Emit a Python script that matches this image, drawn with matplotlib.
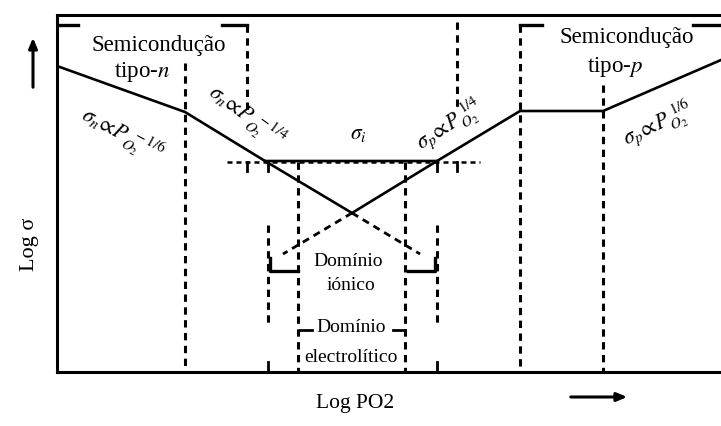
import matplotlib
matplotlib.use("Agg")
import matplotlib.pyplot as plt

plt.rcParams['font.family'] = ['Liberation Serif', 'DejaVu Serif']
plt.rcParams['mathtext.fontset'] = 'stix'

# Schematic coordinates (x grows with log PO2, y grows downward = lower conductivity)
curve_x = [57, 185, 265, 437, 520, 603, 721]
curve_y = [66, 112, 161, 161, 111, 111, 60]

# Extrapolated n- and p-type branches crossing below the ionic plateau
n_solid_x = [265, 352]; n_solid_y = [161, 213]
n_dash_x = [352, 420];  n_dash_y = [213, 254]
p_solid_x = [437, 352]; p_solid_y = [161, 213]
p_dash_x = [352, 283];  p_dash_y = [213, 254]

# Dashed domain boundaries
vline_x = [185, 247, 268, 298, 405, 437, 457, 520, 603]
vline_top = [63, 25, 225, 162, 162, 225, 22, 25, 85]
vline_bot = [372, 110, 327, 372, 372, 327, 110, 372, 372]

plateau_y = 162
plateau_dash = (227, 480)
plateau_ticks = [247, 268, 437, 457]
bottom_ticks = [268, 437]

W, H = 721, 426
fig = plt.figure(figsize=(W / 100, H / 100), dpi=100)
ax = fig.add_axes([57 / W, (H - 372) / H, (W - 57) / W, (372 - 15) / H])
ax.set_xlim(57, 721)
ax.set_ylim(372, 15)
ax.set_xticks([]); ax.set_yticks([])
for s in ['left', 'top', 'bottom']:
    ax.spines[s].set_linewidth(2.2)
ax.spines['right'].set_visible(False)

k = 'black'
ax.plot(curve_x, curve_y, color=k, lw=1.9, solid_joinstyle='round')
ax.plot(n_solid_x, n_solid_y, color=k, lw=1.9)
ax.plot(p_solid_x, p_solid_y, color=k, lw=1.9)
dash = (0, (2.6, 1.9))
ax.plot(n_dash_x, n_dash_y, color=k, lw=2.0, linestyle=dash)
ax.plot(p_dash_x, p_dash_y, color=k, lw=2.0, linestyle=dash)

for x, t, b in zip(vline_x, vline_top, vline_bot):
    ax.plot([x, x], [t, b], color=k, lw=2.2, linestyle=(0, (2.4, 1.8)))

ax.plot(plateau_dash, [plateau_y, plateau_y], color=k, lw=1.8, linestyle=(0, (2.0, 1.6)))
for x in plateau_ticks:
    ax.plot([x, x], [plateau_y, plateau_y + 9], color=k, lw=2.0)
for x in bottom_ticks:
    ax.plot([x, x], [362, 372], color=k, lw=2.0)

# Region brackets at the top
for xs in [(57, 78), (222, 247), (520, 542), (693, 721)]:
    ax.plot(xs, [25, 25], color=k, lw=2.4)

# Brackets of the ionic domain
ax.plot([270, 270, 298], [258, 271, 271], color=k, lw=2.4, solid_joinstyle='round')
ax.plot([408, 435, 435], [271, 271, 258], color=k, lw=2.4, solid_joinstyle='round')
ax.plot([300, 312], [330, 330], color=k, lw=2.0)
ax.plot([393, 405], [330, 330], color=k, lw=2.0)

fs = 16.5
ax.text(159, 46, 'Semicondução', fontsize=fs, ha='center', va='center')
ax.text(142, 72, r'tipo-$\it{n}$', fontsize=fs, ha='center', va='center')
ax.text(627, 38, 'Semicondução', fontsize=fs, ha='center', va='center')
ax.text(615, 67, r'tipo-$\it{p}$', fontsize=fs, ha='center', va='center')

sfs = 15.5
ax.text(122, 135, r'$\sigma_n\!\propto\!P_{O_2}^{\ -1/6}$', fontsize=sfs, rotation=-28,
        ha='center', va='center', rotation_mode='anchor')
ax.text(246, 117, r'$\sigma_n\!\propto\!P_{O_2}^{\ -1/4}$', fontsize=sfs, rotation=-36,
        ha='center', va='center', rotation_mode='anchor')
ax.text(358, 135, r'$\sigma_i$', fontsize=sfs, ha='center', va='center')
ax.text(450, 126, r'$\sigma_p\!\propto\!P_{O_2}^{\ 1/4}$', fontsize=sfs, rotation=33,
        ha='center', va='center', rotation_mode='anchor')
ax.text(658, 125, r'$\sigma_p\!\propto\!P_{O_2}^{\ 1/6}$', fontsize=sfs, rotation=25,
        ha='center', va='center', rotation_mode='anchor')

dfs = 14
ax.text(348, 262, 'Domínio', fontsize=dfs, ha='center', va='center')
ax.text(351, 286, 'iónico', fontsize=dfs, ha='center', va='center')
ax.text(351, 327, 'Domínio', fontsize=dfs, ha='center', va='center')
ax.text(351, 357, 'electrolítico', fontsize=dfs, ha='center', va='center')

ax.set_xlabel('Log PO2', fontsize=15.5)
ax.xaxis.set_label_coords((355 - 57) / 664, (372 - 394) / 357)
ax.set_ylabel('Log σ', fontsize=16)
ax.yaxis.set_label_coords((39 - 57) / 664, 1 - (244 - 15) / 357)

arrow = dict(arrowstyle='-|>,head_length=0.6,head_width=0.25', color=k, lw=2.2)
ax.annotate('', xy=(33, 35), xytext=(33, 90), xycoords='data', arrowprops=arrow,
            annotation_clip=False)
ax.annotate('', xy=(630, 397), xytext=(568, 397), xycoords='data', arrowprops=arrow,
            annotation_clip=False)

fig.savefig('out.png', dpi=100)
